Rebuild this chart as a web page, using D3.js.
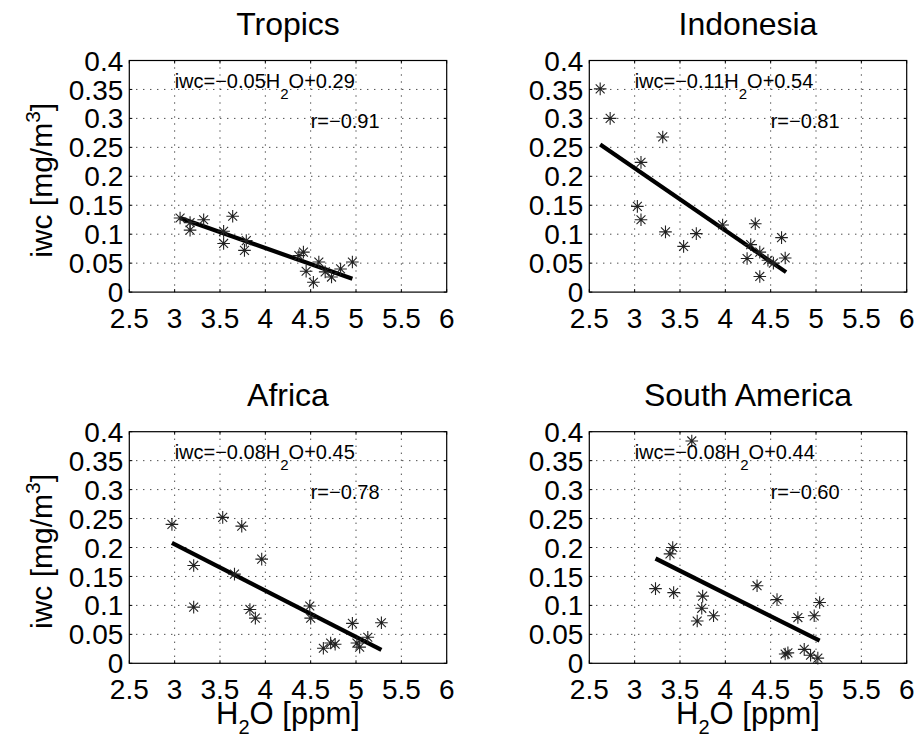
<!DOCTYPE html>
<html>
<head>
<meta charset="utf-8">
<script src="https://cdn.jsdelivr.net/npm/d3@7"></script>
<style>
  body { margin: 0; background: #fff; }
  svg { display: block; font-family: "Liberation Sans", Arial, Helvetica, sans-serif; }
</style>
</head>
<body>
<div id="chart"></div>
<script>
// values
const regions = ['Tropics', 'Indonesia', 'Africa', 'South America'];

const tropicsH2O = [3.06, 3.17, 3.17, 3.32, 3.64, 3.54, 3.54, 3.79, 3.77, 4.37, 4.42, 4.45, 4.53, 4.59, 4.66, 4.73, 4.83, 4.96];
const tropicsIWC = [0.128, 0.120, 0.107, 0.125, 0.131, 0.105, 0.084, 0.089, 0.072, 0.063, 0.069, 0.036, 0.017, 0.052, 0.035, 0.026, 0.040, 0.052];

const indonesiaH2O = [2.62, 2.73, 3.31, 3.07, 3.03, 3.07, 3.34, 3.54, 3.68, 3.97, 4.33, 4.28, 4.24, 4.38, 4.38, 4.47, 4.53, 4.62, 4.66];
const indonesiaIWC = [0.351, 0.300, 0.268, 0.224, 0.148, 0.125, 0.104, 0.079, 0.101, 0.116, 0.118, 0.082, 0.058, 0.069, 0.027, 0.055, 0.050, 0.094, 0.059];

const africaH2O = [2.97, 3.21, 3.21, 3.53, 3.74, 3.96, 3.66, 3.83, 3.89, 4.49, 4.50, 4.64, 4.72, 4.77, 4.96, 5.01, 5.04, 5.13, 5.28];
const africaIWC = [0.240, 0.169, 0.097, 0.252, 0.237, 0.180, 0.154, 0.093, 0.078, 0.099, 0.078, 0.026, 0.035, 0.033, 0.069, 0.035, 0.028, 0.045, 0.070];

const southAmH2O = [3.63, 3.42, 3.39, 3.23, 3.43, 3.75, 3.74, 3.69, 3.87, 4.35, 4.57, 4.80, 4.98, 5.04, 4.66, 4.69, 4.87, 4.94, 5.02];
const southAmIWC = [0.384, 0.200, 0.189, 0.129, 0.122, 0.116, 0.095, 0.073, 0.082, 0.134, 0.110, 0.079, 0.082, 0.105, 0.016, 0.018, 0.024, 0.014, 0.009];

// regression line end points [x0, x1], [y0, y1]
const fitH2O = [[3.06, 4.96], [2.62, 4.67], [2.97, 5.28], [3.23, 5.04]];
const fitIWC = [[0.128, 0.023], [0.255, 0.0345], [0.208, 0.023], [0.181, 0.039]];

const slopes = ['\u22120.05', '\u22120.11', '\u22120.08', '\u22120.08'];
const intercepts = ['0.29', '0.54', '0.45', '0.44'];
const rValues = ['\u22120.91', '\u22120.81', '\u22120.78', '\u22120.60'];

const xTicks = [2.5, 3, 3.5, 4, 4.5, 5, 5.5, 6];
const yTicks = [0, 0.05, 0.1, 0.15, 0.2, 0.25, 0.3, 0.35, 0.4];

const h2oSets = [tropicsH2O, indonesiaH2O, africaH2O, southAmH2O];
const iwcSets = [tropicsIWC, indonesiaIWC, africaIWC, southAmIWC];

// layout
const W = 916, H = 739;
const colX = [129.3, 589.3];
const rowY = [60.5, 431.7];
const pw = 317.4, ph = 231.6;

const svg = d3.select('#chart').append('svg')
    .attr('width', W)
    .attr('height', H);

const fmt = d => String(d);

// asterisk marker like matlab '*'
function asterisk(r) {
    const d = r * Math.SQRT1_2;
    return `M${-r},0L${r},0M0,${-r}L0,${r}M${-d},${-d}L${d},${d}M${-d},${d}L${d},${-d}`;
}

regions.forEach((name, i) => {
    const col = i % 2;
    const row = Math.floor(i / 2);
    const g = svg.append('g').attr('transform', `translate(${colX[col]},${rowY[row]})`);

    const x = d3.scaleLinear().domain([2.5, 6]).range([0, pw]);
    const y = d3.scaleLinear().domain([0, 0.4]).range([ph, 0]);

    // grid
    g.append('g').selectAll('line')
        .data(xTicks.slice(1, -1))
        .enter().append('line')
        .attr('x1', d => x(d)).attr('x2', d => x(d))
        .attr('y1', 0).attr('y2', ph)
        .attr('stroke', '#000').attr('stroke-width', 1)
        .attr('stroke-dasharray', '1,6');
    g.append('g').selectAll('line')
        .data(yTicks.slice(1, -1))
        .enter().append('line')
        .attr('y1', d => y(d)).attr('y2', d => y(d))
        .attr('x1', 0).attr('x2', pw)
        .attr('stroke', '#000').attr('stroke-width', 1)
        .attr('stroke-dasharray', '1,6');

    // inner ticks on all four sides
    const tl = 3;
    g.append('g').selectAll('path')
        .data(xTicks)
        .enter().append('path')
        .attr('d', d => `M${x(d)},${ph}v${-tl}M${x(d)},0v${tl}`)
        .attr('stroke', '#000');
    g.append('g').selectAll('path')
        .data(yTicks)
        .enter().append('path')
        .attr('d', d => `M0,${y(d)}h${tl}M${pw},${y(d)}h${-tl}`)
        .attr('stroke', '#000');

    // box
    g.append('rect')
        .attr('width', pw).attr('height', ph)
        .attr('fill', 'none').attr('stroke', '#000').attr('stroke-width', 1.2);

    // tick labels
    g.append('g').selectAll('text')
        .data(xTicks)
        .enter().append('text')
        .attr('x', d => x(d))
        .attr('y', ph + 36)
        .attr('text-anchor', 'middle')
        .attr('font-size', 28)
        .text(fmt);
    g.append('g').selectAll('text')
        .data(yTicks)
        .enter().append('text')
        .attr('x', -6)
        .attr('y', d => y(d))
        .attr('dy', '0.36em')
        .attr('text-anchor', 'end')
        .attr('font-size', 28)
        .text(fmt);

    // title
    g.append('text')
        .attr('x', pw / 2)
        .attr('y', -26)
        .attr('text-anchor', 'middle')
        .attr('font-size', 32)
        .text(name);

    // regression line
    const fit = fitH2O[i].map((v, k) => [v, fitIWC[i][k]]);
    g.append('path')
        .datum(fit)
        .attr('d', d3.line().x(d => x(d[0])).y(d => y(d[1])))
        .attr('stroke', '#000')
        .attr('stroke-width', 4.2)
        .attr('fill', 'none');

    // points
    const pts = h2oSets[i].map((v, k) => [v, iwcSets[i][k]]);
    g.append('g').selectAll('path')
        .data(pts)
        .enter().append('path')
        .attr('transform', d => `translate(${x(d[0])},${y(d[1])})`)
        .attr('d', asterisk(6.3))
        .attr('stroke', '#222')
        .attr('stroke-width', 1.1)
        .attr('fill', 'none');

    // equation text
    const eq = g.append('text')
        .attr('x', x(3.0))
        .attr('y', y(0.352))
        .attr('font-size', 20);
    eq.append('tspan').text('iwc=' + slopes[i] + 'H');
    eq.append('tspan').attr('font-size', 15).attr('dy', 11).text('2');
    eq.append('tspan').attr('dy', -11).text('O+' + intercepts[i]);

    g.append('text')
        .attr('x', x(4.5))
        .attr('y', y(0.284))
        .attr('font-size', 20)
        .text('r=' + rValues[i]);

    // axis labels
    if (col === 0) {
        const yl = g.append('text')
            .attr('transform', `translate(-77,${ph / 2 + 4}) rotate(-90)`)
            .attr('text-anchor', 'middle')
            .attr('font-size', 30);
        yl.append('tspan').text('iwc [mg/m');
        yl.append('tspan').attr('font-size', 21).attr('dy', -12).text('3');
        yl.append('tspan').attr('dy', 12).text(']');
    }
    if (row === 1) {
        const xl = g.append('text')
            .attr('x', pw / 2)
            .attr('y', ph + 61)
            .attr('text-anchor', 'middle')
            .attr('font-size', 31);
        xl.append('tspan').text('H');
        xl.append('tspan').attr('font-size', 20).attr('dy', 10).text('2');
        xl.append('tspan').attr('dy', -10).text('O [ppm]');
    }
});
</script>
</body>
</html>
